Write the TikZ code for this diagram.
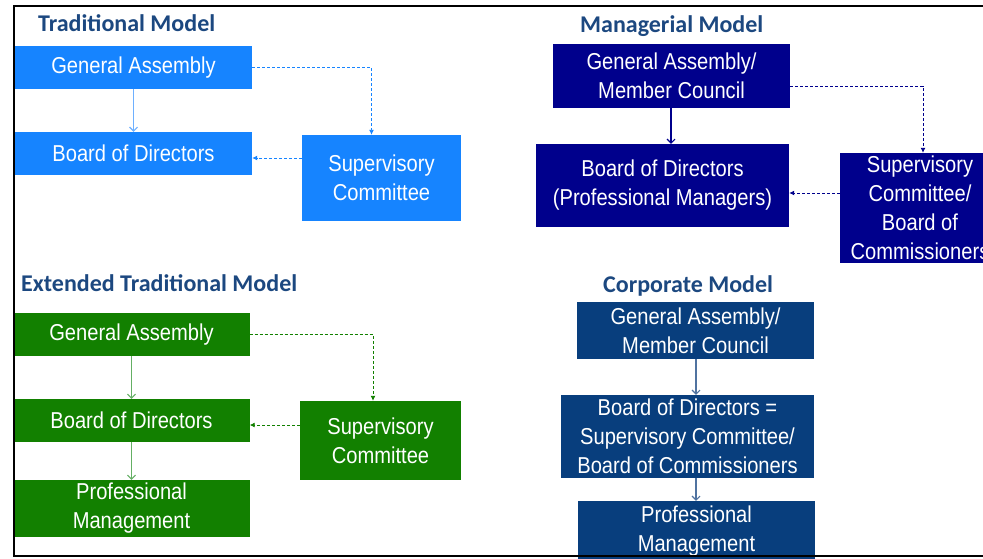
\documentclass[tikz,border=0pt]{standalone}
\usepackage{fontspec}
\setmainfont{Liberation Sans}[FakeStretch=0.875]
\newfontfamily\titlefont{Carlito}
\usetikzlibrary{arrows.meta}
\definecolor{tradblue}{RGB}{22,132,255}
\definecolor{tradlight}{RGB}{110,176,255}
\definecolor{mannavy}{RGB}{0,0,140}
\definecolor{extgreen}{RGB}{18,128,0}
\definecolor{extlight}{RGB}{100,175,100}
\definecolor{corpblue}{RGB}{8,62,125}
\definecolor{corplight}{RGB}{80,115,160}
\definecolor{titleblue}{RGB}{28,72,128}
\begin{document}
\begin{tikzpicture}[x=1pt, y=-1pt,
    box/.style = {fill=#1, text=white, inner sep=0pt, align=center,
                  font=\fontsize{23}{29}\selectfont},
    title/.style = {anchor=base west, inner sep=0pt, text=titleblue,
                    font=\titlefont\bfseries\fontsize{24}{28}\selectfont},
    link/.style = {draw=#1, line width=1.1pt, -{Straight Barb[length=4pt,width=8pt]}},
    dlink/.style = {draw=#1, line width=0.9pt, dash pattern=on 3pt off 2pt,
                    -{Latex[length=5pt,width=5pt]}}]
\useasboundingbox (0,0) rectangle (983,558);
\fill[white] (0,0) rectangle (983,558);

% traditional model
\node[title] (ttl) at (38,31.5) {Traditional Model};
\node[box=tradblue, minimum width=237pt, minimum height=43pt] (tga) at (133.5,67.5) {General Assembly};
\node[box=tradblue, minimum width=237pt, minimum height=43pt] (tbod) at (133.5,153.5) {Board of Directors};
\node[box=tradblue, minimum width=159pt, minimum height=86pt] (tsc) at (381.5,178) {Supervisory\\Committee};
\draw[link=tradlight] (tga) -- (tbod);
\draw[dlink=tradblue] (tga.east) -| ([xshift=-10pt]tsc.north);
\draw[dlink=tradblue] (tsc.west |- 0,158) -- (tbod.east |- 0,158);

% managerial model
\node[title] (mtl) at (580,32) {Managerial Model};
\node[box=mannavy, minimum width=237pt, minimum height=64pt] (mga) at (671.5,76) {General Assembly/\\Member Council};
\node[box=mannavy, minimum width=253pt, minimum height=83pt] (mbod) at (662.5,185.5) {Board of Directors\\(Professional Managers)};
\node[box=mannavy, minimum width=160pt, minimum height=110pt] (msc) at (920,208) {Supervisory\\Committee/\\Board of\\Commissioners};
\draw[link=mannavy] (mga.south -| 671,0) -- (mbod.north -| 671,0);
\draw[dlink=mannavy] (mga.east |- 0,86) -| ([xshift=3pt]msc.north);
\draw[dlink=mannavy] (msc.west |- 0,193) -- (mbod.east |- 0,193);

% extended traditional model
\node[title] (etl) at (21,291) {Extended Traditional Model};
\node[box=extgreen, minimum width=236pt, minimum height=43pt] (ega) at (131.5,334.5) {General Assembly};
\node[box=extgreen, minimum width=236pt, minimum height=43pt] (ebod) at (131.5,420.5) {Board of Directors};
\node[box=extgreen, minimum width=236pt, minimum height=57pt] (epm) at (131.5,508.5) {Professional\\Management};
\node[box=extgreen, minimum width=161pt, minimum height=79pt] (esc) at (380.5,440.5) {Supervisory\\Committee};
\draw[link=extlight] (ega) -- (ebod);
\draw[link=extlight] (ebod) -- (epm);
\draw[dlink=extgreen] (ega.east) -| ([xshift=-7.5pt]esc.north);
\draw[dlink=extgreen] (esc.west |- 0,425) -- (ebod.east |- 0,425);

% corporate model
\node[title] (ctl) at (603,292) {Corporate Model};
\node[box=corpblue, minimum width=237pt, minimum height=57pt] (cga) at (695.5,330.5) {General Assembly/\\Member Council};
\node[box=corpblue, minimum width=253pt, minimum height=83pt] (cbod) at (687.5,436.5) {Board of Directors =\\Supervisory Committee/\\Board of Commissioners};
\node[box=corpblue, minimum width=237pt, minimum height=61pt] (cpm) at (696.5,531.5) {Professional\\Management};
\draw[link=corplight] (cga.south -| 696,0) -- (cbod.north -| 696,0);
\draw[link=corplight] (cbod.south -| 696,0) -- (cpm.north -| 696,0);

% frame
\draw[line width=1.8pt] (14,6) rectangle (995,556);
\end{tikzpicture}
\end{document}
